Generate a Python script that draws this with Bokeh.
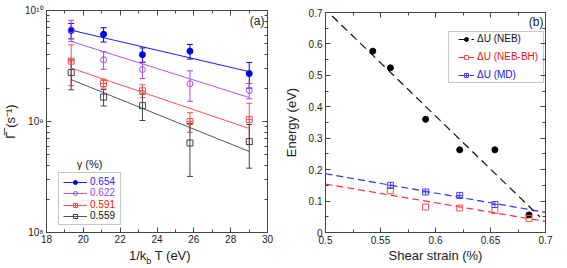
import numpy as np
from bokeh.plotting import figure
from bokeh.layouts import row, column
from bokeh.models import (ColumnDataSource, Whisker, TeeHead, FixedTicker, Legend, LegendItem,
                          Label, BoxAnnotation, LinearAxis, LogAxis, Div)
from bokeh.embed import file_html
from bokeh.resources import INLINE

# ---------------- data: panel (a) ----------------
inv_kT = [19.34, 21.10, 23.21, 25.79, 29.01]
gamma_labels = ["0.654", "0.622", "0.591", "0.559"]
rate_654 = [6.6e9, 6.1e9, 4.0e9, 4.3e9, 2.7e9]
err_654 = [1.05e9, 0.9e9, 0.6e9, 0.65e9, 0.7e9]
rate_622 = [6.7e9, 3.6e9, 2.94e9, 2.19e9, 1.9e9]
err_622 = [1.45e9, 0.65e9, 0.5e9, 0.67e9, 0.3e9]
rate_591 = [3.5e9, 2.2e9, 1.89e9, 1.0e9, 1.04e9]
err_591 = [1.4e9, 0.2e9, 0.25e9, 0.2e9, 0.42e9]
rate_559 = [2.76e9, 1.66e9, 1.39e9, 0.64e9, 0.66e9]
err_559 = [0.83e9, 0.28e9, 0.37e9, 0.32e9, 0.28e9]

# ---------------- data: panel (b) ----------------
strain_neb = [0.543, 0.559, 0.591, 0.622, 0.654, 0.685]
du_neb = [0.577, 0.524, 0.360, 0.263, 0.263, 0.056]
strain_bh = [0.559, 0.591, 0.622, 0.654, 0.685]
du_bh = [0.133, 0.081, 0.078, 0.070, 0.045]
strain_md = [0.559, 0.591, 0.622, 0.654]
du_md = [0.150, 0.129, 0.118, 0.089]
neb_fit_span = [0.506, 0.695]
bh_fit_span = [0.5, 0.7]
md_fit_span = [0.5, 0.7]

FONT = "Liberation Sans"
AX = "#444444"


def style_axis(ax, labels=True):
    ax.major_tick_in = 5
    ax.major_tick_out = 0
    ax.minor_tick_in = 3
    ax.minor_tick_out = 0
    ax.axis_line_color = AX
    ax.major_tick_line_color = AX
    ax.minor_tick_line_color = AX
    ax.major_label_text_font = FONT
    if labels:
        ax.major_label_text_color = "#222222"
        ax.major_label_text_font_size = "10px"
        ax.major_label_standoff = 3
    else:
        ax.major_label_text_color = None
        ax.major_label_text_font_size = "1px"
        ax.major_label_standoff = 0
    ax.axis_label_text_font = FONT
    ax.axis_label_text_font_style = "normal"
    ax.axis_label_text_color = "#222222"


def one_legend(p, label, renderers, color, x, y, gw):
    lg = Legend(items=[LegendItem(label=label, renderers=renderers)], location=(x, y),
                padding=0, margin=0, spacing=0, border_line_color=None,
                background_fill_alpha=0, glyph_width=gw, glyph_height=10, label_height=10,
                label_standoff=3, label_text_font=FONT, label_text_font_size="10px",
                label_text_color=color)
    p.add_layout(lg)


# ================= panel (a) =================
pa = figure(width=280, height=248, x_range=(18, 30), y_range=(1e8, 1e10), y_axis_type="log",
            output_backend="svg", toolbar_location=None, min_border_left=45, min_border_right=13,
            min_border_top=10, min_border_bottom=16)
pa.grid.visible = False
pa.outline_line_color = AX
pa.background_fill_color = "white"

xt_a = FixedTicker(ticks=list(range(18, 31, 2)), minor_ticks=list(range(19, 30, 2)))
yt_a = FixedTicker(ticks=[1e8, 1e9, 1e10],
                   minor_ticks=[m * 10 ** e for e in (8, 9) for m in range(2, 10)])
pa.xaxis.ticker = xt_a
pa.yaxis.ticker = yt_a
pa.yaxis.major_label_overrides = {1e8: "10\u2078", 1e9: "10\u2079", 1e10: "10\u00b9\u2070"}
style_axis(pa.xaxis[0])
style_axis(pa.yaxis[0])
pa.xaxis.major_label_standoff = 2
pa.yaxis.axis_label = "\u0393\u0305 (s\u207b\u00b9)"
pa.yaxis.axis_label_text_font_size = "13px"
pa.yaxis.axis_label_standoff = 4
top_a = LinearAxis(ticker=xt_a)
style_axis(top_a, labels=False)
pa.add_layout(top_a, "above")
right_a = LogAxis(ticker=yt_a)
style_axis(right_a, labels=False)
pa.add_layout(right_a, "right")

series_a = [
    ("0.654", rate_654, err_654, "#1a1aff", "#0000dd", "circle", "#0000dd", "#2222ee"),
    ("0.622", rate_622, err_622, "#b455f0", "#a64ae8", "circle", None, "#9a3ae0"),
    ("0.591", rate_591, err_591, "#ff5050", "#f05050", "square_cross", None, "#e81818"),
    ("0.559", rate_559, err_559, "#555555", "#444444", "square", None, "#111111"),
]
leg_rows_y = [45, 34, 22, 11]
for (lab, ys, es, lc, mc, mk, fc, tc), ly in zip(series_a, leg_rows_y):
    ys = np.array(ys)
    es = np.array(es)
    src = ColumnDataSource(dict(x=inv_kT, y=ys, lo=ys - es, hi=ys + es))
    wh = Whisker(source=src, base="x", lower="lo", upper="hi", line_color=mc, line_width=1,
                 upper_head=TeeHead(size=6, line_color=mc, line_width=1),
                 lower_head=TeeHead(size=6, line_color=mc, line_width=1))
    pa.add_layout(wh)
    coef = np.polyfit(inv_kT, np.log10(ys), 1)
    fx = np.array([inv_kT[0], inv_kT[-1]])
    ln = pa.line(fx, 10 ** np.polyval(coef, fx), line_color=lc, line_width=1)
    sc = pa.scatter("x", "y", source=src, marker=mk, size=6, line_color=mc, line_width=1,
                    fill_color=fc if fc else "white", fill_alpha=1 if fc else 0)
    one_legend(pa, lab, [ln, sc], tc, 17, ly, 24)

pa.add_layout(BoxAnnotation(left=12, right=74, bottom=8, top=60, left_units="screen",
                            right_units="screen", top_units="screen", bottom_units="screen",
                            fill_alpha=0, fill_color=None, line_color=AX, line_width=1))
pa.add_layout(Label(x=43, y=69, x_units="screen", y_units="screen", text="\u03b3 (%)",
                    text_font=FONT, text_font_size="11px", text_align="center",
                    text_baseline="middle", text_color="#222222"))
pa.add_layout(Label(x=218, y=219, x_units="screen", y_units="screen", text="(a)",
                    text_font=FONT, text_font_size="12px", text_align="right",
                    text_baseline="top", text_color="#222222"))

xlabel_a = Div(
    text=("<div style=\"font-family:'Liberation Sans';font-size:13px;color:#222;"
          "line-height:14px;text-align:left;padding-left:129px;"
          "margin-top:-4px;white-space:nowrap\">1/k<sub style=\"font-size:9px;"
          "vertical-align:-4px;line-height:0\">b</sub> T (eV)</div>"),
    width=280, height=20, margin=0)

# ================= panel (b) =================
pb = figure(width=282, height=268, x_range=(0.5, 0.7), y_range=(0, 0.7),
            output_backend="svg", toolbar_location=None, min_border_left=44, min_border_right=17,
            min_border_top=12, min_border_bottom=36)
pb.grid.visible = False
pb.outline_line_color = AX

xt_b_major = [0.5, 0.55, 0.6, 0.65, 0.7]
xt_b_minor = [0.525, 0.575, 0.625, 0.675]
yt_b_major = [0.0, 0.1, 0.2, 0.3, 0.4, 0.5, 0.6, 0.7]
yt_b_minor = [0.05, 0.15, 0.25, 0.35, 0.45, 0.55, 0.65]
xt_b = FixedTicker(ticks=xt_b_major, minor_ticks=xt_b_minor)
yt_b = FixedTicker(ticks=yt_b_major, minor_ticks=yt_b_minor)
pb.xaxis.ticker = xt_b
pb.yaxis.ticker = yt_b
pb.xaxis.major_label_overrides = {t: f"{t:g}" for t in xt_b_major}
pb.yaxis.major_label_overrides = {t: f"{t:g}" for t in yt_b_major}
style_axis(pb.xaxis[0])
style_axis(pb.yaxis[0])
pb.xaxis.axis_label = "Shear strain (%)"
pb.yaxis.axis_label = "Energy (eV)"
pb.xaxis.axis_label_text_font_size = "13px"
pb.yaxis.axis_label_text_font_size = "13px"
pb.xaxis.axis_label_standoff = 1
pb.yaxis.axis_label_standoff = 7
top_b = LinearAxis(ticker=xt_b)
style_axis(top_b, labels=False)
pb.add_layout(top_b, "above")
right_b = LinearAxis(ticker=yt_b)
style_axis(right_b, labels=False)
pb.add_layout(right_b, "right")


def lin_fit_line(p, xs, ys, span, color, dash):
    coef = np.polyfit(xs, ys, 1)
    fx = np.array(span)
    return p.line(fx, np.polyval(coef, fx), line_color=color, line_width=1.2, line_dash=dash)


l_neb = lin_fit_line(pb, strain_neb, du_neb, neb_fit_span, "#111111", "8 5")
l_bh = lin_fit_line(pb, strain_bh, du_bh, bh_fit_span, "#ff3030", "7 4")
l_md = lin_fit_line(pb, strain_md, du_md, md_fit_span, "#3030ff", "7 4")
s_neb = pb.scatter(strain_neb, du_neb, marker="circle", size=6, fill_color="#000000",
                   line_color="#000000")
s_bh = pb.scatter(strain_bh, du_bh, marker="square", size=6, fill_color=None,
                  line_color="#f05050")
s_md = pb.scatter(strain_md, du_md, marker="square_cross", size=6, fill_color=None,
                  line_color="#4040ff")

pb.add_layout(BoxAnnotation(left=123, right=218, bottom=150, top=201, left_units="screen",
                            right_units="screen", top_units="screen", bottom_units="screen",
                            fill_alpha=0, fill_color=None, line_color=AX, line_width=1))
one_legend(pb, "\u0394U (NEB)", [l_neb, s_neb], "#111111", 133, 188, 16)
one_legend(pb, "\u0394U (NEB-BH)", [l_bh, s_bh], "#ee1111", 133, 170, 16)
one_legend(pb, "\u0394U (MD)", [l_md, s_md], "#1111ee", 133, 152, 16)
pb.add_layout(Label(x=218, y=218, x_units="screen", y_units="screen", text="(b)",
                    text_font=FONT, text_font_size="12px", text_align="right",
                    text_baseline="top", text_color="#222222"))

layout = row(column(pa, xlabel_a, spacing=0), pb, spacing=0)
open("out.html", "w").write(file_html(layout, INLINE))
